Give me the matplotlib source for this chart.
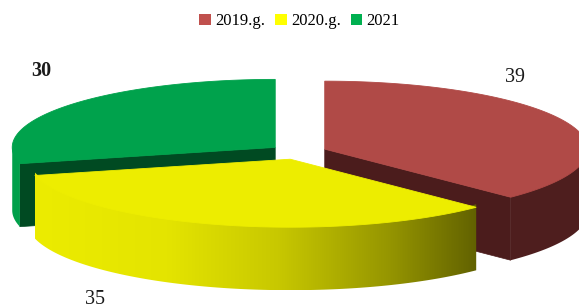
import numpy as np
import matplotlib
matplotlib.use("Agg")
import matplotlib.pyplot as plt
from matplotlib.patches import Polygon, Patch
from matplotlib.colors import LinearSegmentedColormap

# ---- data ----
categories = ['2019.g.', '2020.g.', '2021']
values = [39, 35, 30]
top_colors = ['#B04A47', '#EDED00', '#00A24C']
wall_colors = ['#4E1E1E', None, '#00A04A']
cut_colors = ['#4B1C1C', '#8A8A00', '#004A22']
legend_colors = ['#C0504D', '#FFFF00', '#00B050']
label_bold = [False, False, True]

# ---- geometry (pixels) ----
W, H = 579, 308
cx0, cy0 = 298, 152
rx, ry = 263, 68
depth = 63
explode = 0.11
label_pos = [(515, 77), (95, 299), (41, 71)]

fig = plt.figure(figsize=(W / 100, H / 100), dpi=100)
ax = fig.add_axes([0, 0, 1, 1])
ax.set_xlim(0, W)
ax.set_ylim(H, 0)
ax.axis('off')


def rim(cx, cy, th, dz=0.0):
    t = np.radians(th)
    return cx + rx * np.cos(t), cy - ry * np.sin(t) + dz


def arc(cx, cy, a, b, dz=0.0, n=120):
    ts = np.linspace(a, b, n)
    return [rim(cx, cy, t, dz) for t in ts]


total = sum(values)
# start at 12 o'clock, clockwise
slices = []
start = 90.0
for v in values:
    span = v / total * 360.0
    end = start - span
    slices.append((end, start))  # ccw range [end, start]
    start = end

centers = []
for lo, hi in slices:
    mid = np.radians((lo + hi) / 2)
    centers.append((cx0 + explode * rx * np.cos(mid), cy0 - explode * ry * np.sin(mid)))


def draw_slice(i, zbase):
    lo, hi = slices[i]
    cx, cy = centers[i]
    lo_n = lo % 360
    hi_n = lo_n + (hi - lo)
    # radial faces
    for th, normal in ((lo, lo - 90), (hi, hi + 90)):
        if np.sin(np.radians(normal)) < 0:
            p1 = (cx, cy)
            p2 = rim(cx, cy, th)
            poly = [p1, p2, (p2[0], p2[1] + depth), (p1[0], p1[1] + depth)]
            ax.add_patch(Polygon(poly, closed=True, facecolor=cut_colors[i],
                                 edgecolor=cut_colors[i], linewidth=0.5, zorder=zbase))
    # outer wall: visible part in (180, 360)
    for k in (-360, 0, 360):
        a = max(lo_n + k, 180)
        b = min(hi_n + k, 360)
        if b > a:
            topc = arc(cx, cy, a, b, -3)
            botc = arc(cx, cy, b, a, depth)
            poly = topc + botc
            if wall_colors[i] is None:
                pg = Polygon(poly, closed=True, facecolor='none', edgecolor='none',
                             zorder=zbase + 1)
                ax.add_patch(pg)
                xs = [p[0] for p in poly]
                ys = [p[1] for p in poly]
                cmap = LinearSegmentedColormap.from_list(
                    'yw', [(0, '#ECEC00'), (0.3, '#E4E400'), (0.55, '#C8C800'),
                           (0.8, '#969600'), (1, '#626200')])
                grad = np.linspace(0, 1, 256).reshape(1, -1)
                im = ax.imshow(grad, cmap=cmap, aspect='auto',
                               extent=(min(xs), max(xs), max(ys), min(ys)),
                               zorder=zbase + 1, interpolation='bilinear')
                im.set_clip_path(pg)
            else:
                ax.add_patch(Polygon(poly, closed=True, facecolor=wall_colors[i],
                                     edgecolor='none', zorder=zbase + 1))
    # top face
    poly = [(cx, cy)] + arc(cx, cy, lo, hi)
    ax.add_patch(Polygon(poly, closed=True, facecolor=top_colors[i],
                         edgecolor=top_colors[i], linewidth=0.6, zorder=zbase + 2))


draw_slice(2, 1)   # green (back left)
draw_slice(0, 4)   # red (back right)
draw_slice(1, 7)   # yellow (front)

serif = ['Liberation Serif', 'DejaVu Serif']
for i, v in enumerate(values):
    ax.text(label_pos[i][0], label_pos[i][1], str(v), ha='center', va='center',
            fontsize=14.5, family=serif, color='#1a1a1a',
            fontweight='bold' if label_bold[i] else 'normal', zorder=20)

handles = [Patch(facecolor=c, edgecolor='none') for c in legend_colors]
leg = ax.legend(handles, categories, loc='upper center', bbox_to_anchor=(0.517, 1.005),
                ncol=3, frameon=False, prop={'family': serif, 'size': 12},
                handlelength=0.7, handleheight=0.7, handletextpad=0.25,
                columnspacing=0.6)

fig.savefig('out.png', dpi=100)
